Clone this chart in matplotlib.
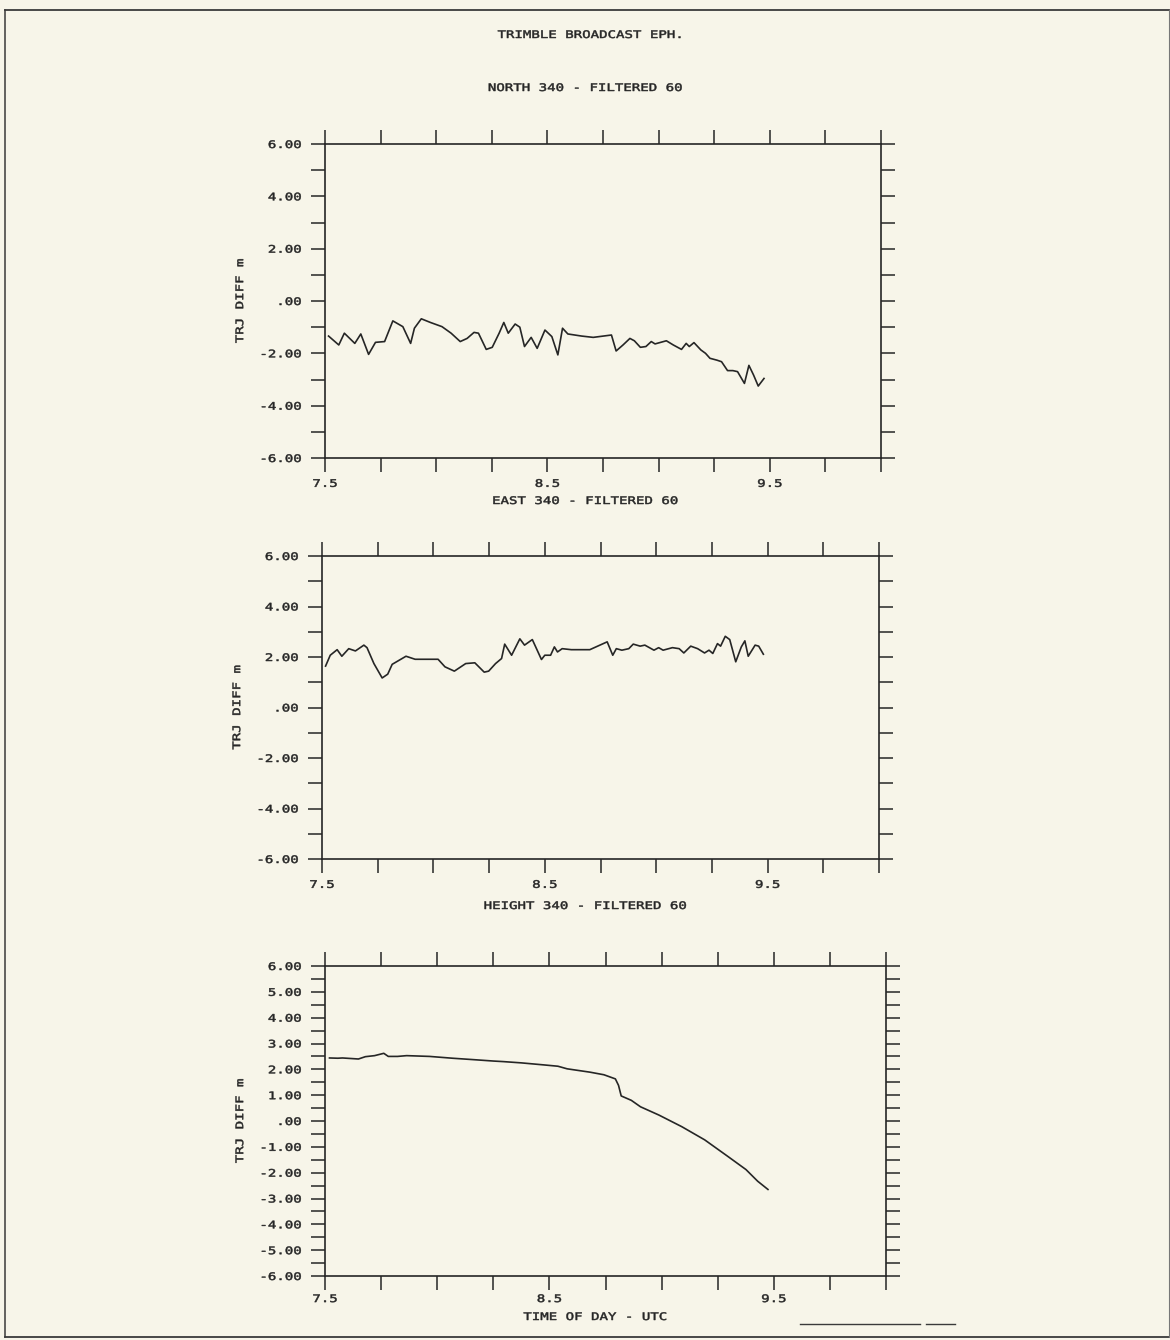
import matplotlib
matplotlib.use("Agg")
import matplotlib.pyplot as plt
from matplotlib.lines import Line2D
from matplotlib.ticker import FixedLocator, FixedFormatter
from matplotlib.patheffects import AbstractPathEffect
from matplotlib.transforms import Affine2D

# ---------------- data ----------------
north_t = [7.516, 7.562, 7.587, 7.634, 7.661, 7.696, 7.727, 7.768, 7.805, 7.850,
           7.885, 7.902, 7.933, 7.974, 8.026, 8.067, 8.108, 8.139, 8.170, 8.190,
           8.225, 8.252, 8.283, 8.304, 8.324, 8.355, 8.376, 8.397, 8.427, 8.454,
           8.489, 8.520, 8.547, 8.568, 8.592, 8.654, 8.706, 8.788, 8.809, 8.840,
           8.871, 8.891, 8.918, 8.943, 8.967, 8.984, 9.035, 9.066, 9.103, 9.124,
           9.138, 9.159, 9.190, 9.211, 9.231, 9.262, 9.283, 9.310, 9.334, 9.355,
           9.386, 9.406, 9.427, 9.448, 9.474]
north_v = [-1.34, -1.68, -1.23, -1.62, -1.26, -2.04, -1.58, -1.55, -0.76, -0.98,
           -1.62, -1.04, -0.68, -0.82, -0.98, -1.23, -1.55, -1.43, -1.20, -1.23,
           -1.85, -1.77, -1.23, -0.82, -1.23, -0.88, -1.00, -1.74, -1.39, -1.81,
           -1.11, -1.36, -2.06, -1.04, -1.26, -1.34, -1.39, -1.30, -1.91, -1.68,
           -1.43, -1.52, -1.77, -1.74, -1.55, -1.64, -1.52, -1.68, -1.85, -1.62,
           -1.74, -1.59, -1.87, -2.00, -2.19, -2.26, -2.32, -2.66, -2.66, -2.70,
           -3.15, -2.46, -2.83, -3.25, -2.96]

east_t = [7.516, 7.537, 7.568, 7.589, 7.620, 7.650, 7.688, 7.702, 7.733, 7.770,
          7.795, 7.815, 7.877, 7.918, 8.021, 8.052, 8.094, 8.145, 8.186, 8.228,
          8.248, 8.279, 8.306, 8.320, 8.351, 8.388, 8.409, 8.444, 8.485, 8.500,
          8.526, 8.543, 8.557, 8.578, 8.619, 8.702, 8.780, 8.805, 8.821, 8.846,
          8.877, 8.897, 8.928, 8.949, 8.990, 9.011, 9.031, 9.073, 9.103, 9.124,
          9.155, 9.186, 9.217, 9.237, 9.254, 9.275, 9.289, 9.310, 9.330, 9.357,
          9.382, 9.398, 9.413, 9.444, 9.460, 9.481]
east_v = [1.64, 2.07, 2.29, 2.03, 2.33, 2.24, 2.47, 2.37, 1.74, 1.17,
          1.32, 1.71, 2.03, 1.91, 1.91, 1.61, 1.44, 1.74, 1.77, 1.40,
          1.44, 1.74, 1.94, 2.51, 2.07, 2.72, 2.47, 2.69, 1.90, 2.07,
          2.07, 2.40, 2.20, 2.33, 2.29, 2.29, 2.60, 2.07, 2.33, 2.27,
          2.33, 2.51, 2.43, 2.47, 2.27, 2.37, 2.27, 2.37, 2.33, 2.16,
          2.43, 2.33, 2.16, 2.27, 2.14, 2.53, 2.43, 2.82, 2.69, 1.81,
          2.40, 2.64, 2.03, 2.47, 2.43, 2.11]

height_t = [7.520, 7.557, 7.578, 7.649, 7.680, 7.721, 7.762, 7.782, 7.823, 7.864,
            7.966, 8.068, 8.170, 8.252, 8.293, 8.375, 8.477, 8.538, 8.579, 8.681,
            8.743, 8.794, 8.808, 8.820, 8.865, 8.906, 8.988, 9.090, 9.192, 9.295,
            9.376, 9.428, 9.474]
height_v = [2.44, 2.43, 2.44, 2.40, 2.49, 2.53, 2.62, 2.50, 2.50, 2.53,
            2.50, 2.43, 2.37, 2.32, 2.30, 2.25, 2.17, 2.12, 2.02, 1.89,
            1.79, 1.63, 1.38, 0.97, 0.80, 0.55, 0.23, -0.22, -0.73, -1.37,
            -1.88, -2.33, -2.65]

x_ticks = [7.5, 7.75, 8.0, 8.25, 8.5, 8.75, 9.0, 9.25, 9.5, 9.75, 10.0]
x_labels = ["7.5", "", "", "", "8.5", "", "", "", "9.5", "", ""]

y_ticks_ne = [-6, -5, -4, -3, -2, -1, 0, 1, 2, 3, 4, 5, 6]
y_labels_ne = ["-6.00", "", "-4.00", "", "-2.00", "", ".00", "", "2.00", "", "4.00", "", "6.00"]

y_ticks_h = [-6, -5.5, -5, -4.5, -4, -3.5, -3, -2.5, -2, -1.5, -1, -0.5, 0,
             0.5, 1, 1.5, 2, 2.5, 3, 3.5, 4, 4.5, 5, 5.5, 6]
y_labels_h = ["-6.00", "", "-5.00", "", "-4.00", "", "-3.00", "", "-2.00", "", "-1.00", "", ".00",
              "", "1.00", "", "2.00", "", "3.00", "", "4.00", "", "5.00", "", "6.00"]

main_title = "TRIMBLE BROADCAST EPH."
panel_titles = ["NORTH 340 - FILTERED 60", "EAST 340 - FILTERED 60", "HEIGHT 340 - FILTERED 60"]
y_label = "TRJ DIFF m"
x_label = "TIME OF DAY - UTC"

# ---------------- style ----------------
BG = "#f7f5e9"
INK = "#262626"
FONT = "DejaVu Sans Mono"
FS = 7.5
STRETCH = 1.35


class Stretch(AbstractPathEffect):
    """Widen plotter-style lettering along its baseline (text stays text)."""

    def __init__(self, factor=1.3, anchor="center", along="x"):
        super().__init__()
        self.factor, self.anchor, self.along = factor, anchor, along

    def draw_path(self, renderer, gc, tpath, affine, rgbFace=None):
        bb = tpath.get_extents(affine)
        if self.along == "x":
            if self.anchor == "right":
                c = bb.x1
            elif self.anchor == "left":
                c = bb.x0
            else:
                c = 0.5 * (bb.x0 + bb.x1)
            extra = Affine2D().translate(-c, 0).scale(self.factor, 1).translate(c, 0)
        else:
            c = 0.5 * (bb.y0 + bb.y1)
            extra = Affine2D().translate(0, -c).scale(1, self.factor).translate(0, c)
        gc.set_linewidth(0.35)
        renderer.draw_path(gc, tpath, affine + extra, rgbFace)


fig = plt.figure(figsize=(11.7, 13.4), dpi=100, facecolor=BG)

W, H = 1170.0, 1340.0


def rect(left, top, right, bottom):
    return [left / W, 1 - bottom / H, (right - left) / W, (bottom - top) / H]


panels = [
    (rect(325, 144, 881, 458), north_t, north_v, y_ticks_ne, y_labels_ne, 5),
    (rect(322, 556, 879, 859), east_t, east_v, y_ticks_ne, y_labels_ne, 5),
    (rect(325, 966, 886, 1276), height_t, height_v, y_ticks_h, y_labels_h, 3),
]

for i, (pos, t, v, yt, yl, xpad) in enumerate(panels):
    ax = fig.add_axes(pos)
    ax.set_facecolor(BG)
    ax.plot(t, v, color=INK, lw=1.2)
    ax.set_xlim(7.5, 10.0)
    ax.set_ylim(-6, 6)
    ax.xaxis.set_major_locator(FixedLocator(x_ticks))
    ax.xaxis.set_major_formatter(FixedFormatter(x_labels))
    ax.yaxis.set_major_locator(FixedLocator(yt))
    ax.yaxis.set_major_formatter(FixedFormatter(yl))
    ax.tick_params(axis="both", which="major", direction="out", length=10,
                   width=1.1, color=INK, labelcolor=INK, labelsize=FS,
                   top=True, right=True, labeltop=False, labelright=False)
    ax.tick_params(axis="y", pad=7)
    ax.tick_params(axis="x", pad=xpad)
    for lab in ax.get_xticklabels():
        lab.set_fontfamily(FONT)
        lab.set_path_effects([Stretch(STRETCH, "center")])
    for lab in ax.get_yticklabels():
        lab.set_fontfamily(FONT)
        lab.set_path_effects([Stretch(STRETCH, "right")])
    for s in ax.spines.values():
        s.set_color(INK)
        s.set_linewidth(1.2)
    yl_txt = ax.set_ylabel(y_label, fontfamily=FONT, fontsize=FS, color=INK, labelpad=18)
    yl_txt.set_path_effects([Stretch(STRETCH, "center", "y")])

# x axis title below the bottom panel
xl_txt = fig.text(595 / W, 1 - 1317 / H, x_label, ha="center", va="center",
                  fontfamily=FONT, fontsize=FS, color=INK)
xl_txt.set_path_effects([Stretch(STRETCH, "center")])

# titles
tt = fig.text(590 / W, 1 - 35 / H, main_title, ha="center", va="center",
              fontfamily=FONT, fontsize=FS, color=INK)
tt.set_path_effects([Stretch(STRETCH, "center")])
for y, txt in zip([88, 501, 906], panel_titles):
    st = fig.text(585 / W, 1 - y / H, txt, ha="center", va="center",
                  fontfamily=FONT, fontsize=FS, color=INK)
    st.set_path_effects([Stretch(STRETCH, "center")])


# page border
def fline(x0, y0, x1, y1, lw=1.0, color="#3a3a3a"):
    fig.add_artist(Line2D([x0 / W, x1 / W], [1 - y0 / H, 1 - y1 / H],
                          transform=fig.transFigure, color=color, lw=lw))


fline(5, 10, 1169, 10, lw=1.3)
fline(5, 10, 5, 1337, lw=1.1)
fline(5, 1337, 1169, 1337, lw=1.3)
fline(1169, 10, 1169, 1337, lw=0.8, color="#777777")
fline(800, 1324, 920, 1324, lw=1.0)
fline(926, 1324, 955, 1324, lw=1.0)

fig.savefig("out.png", dpi=100, facecolor=BG)
